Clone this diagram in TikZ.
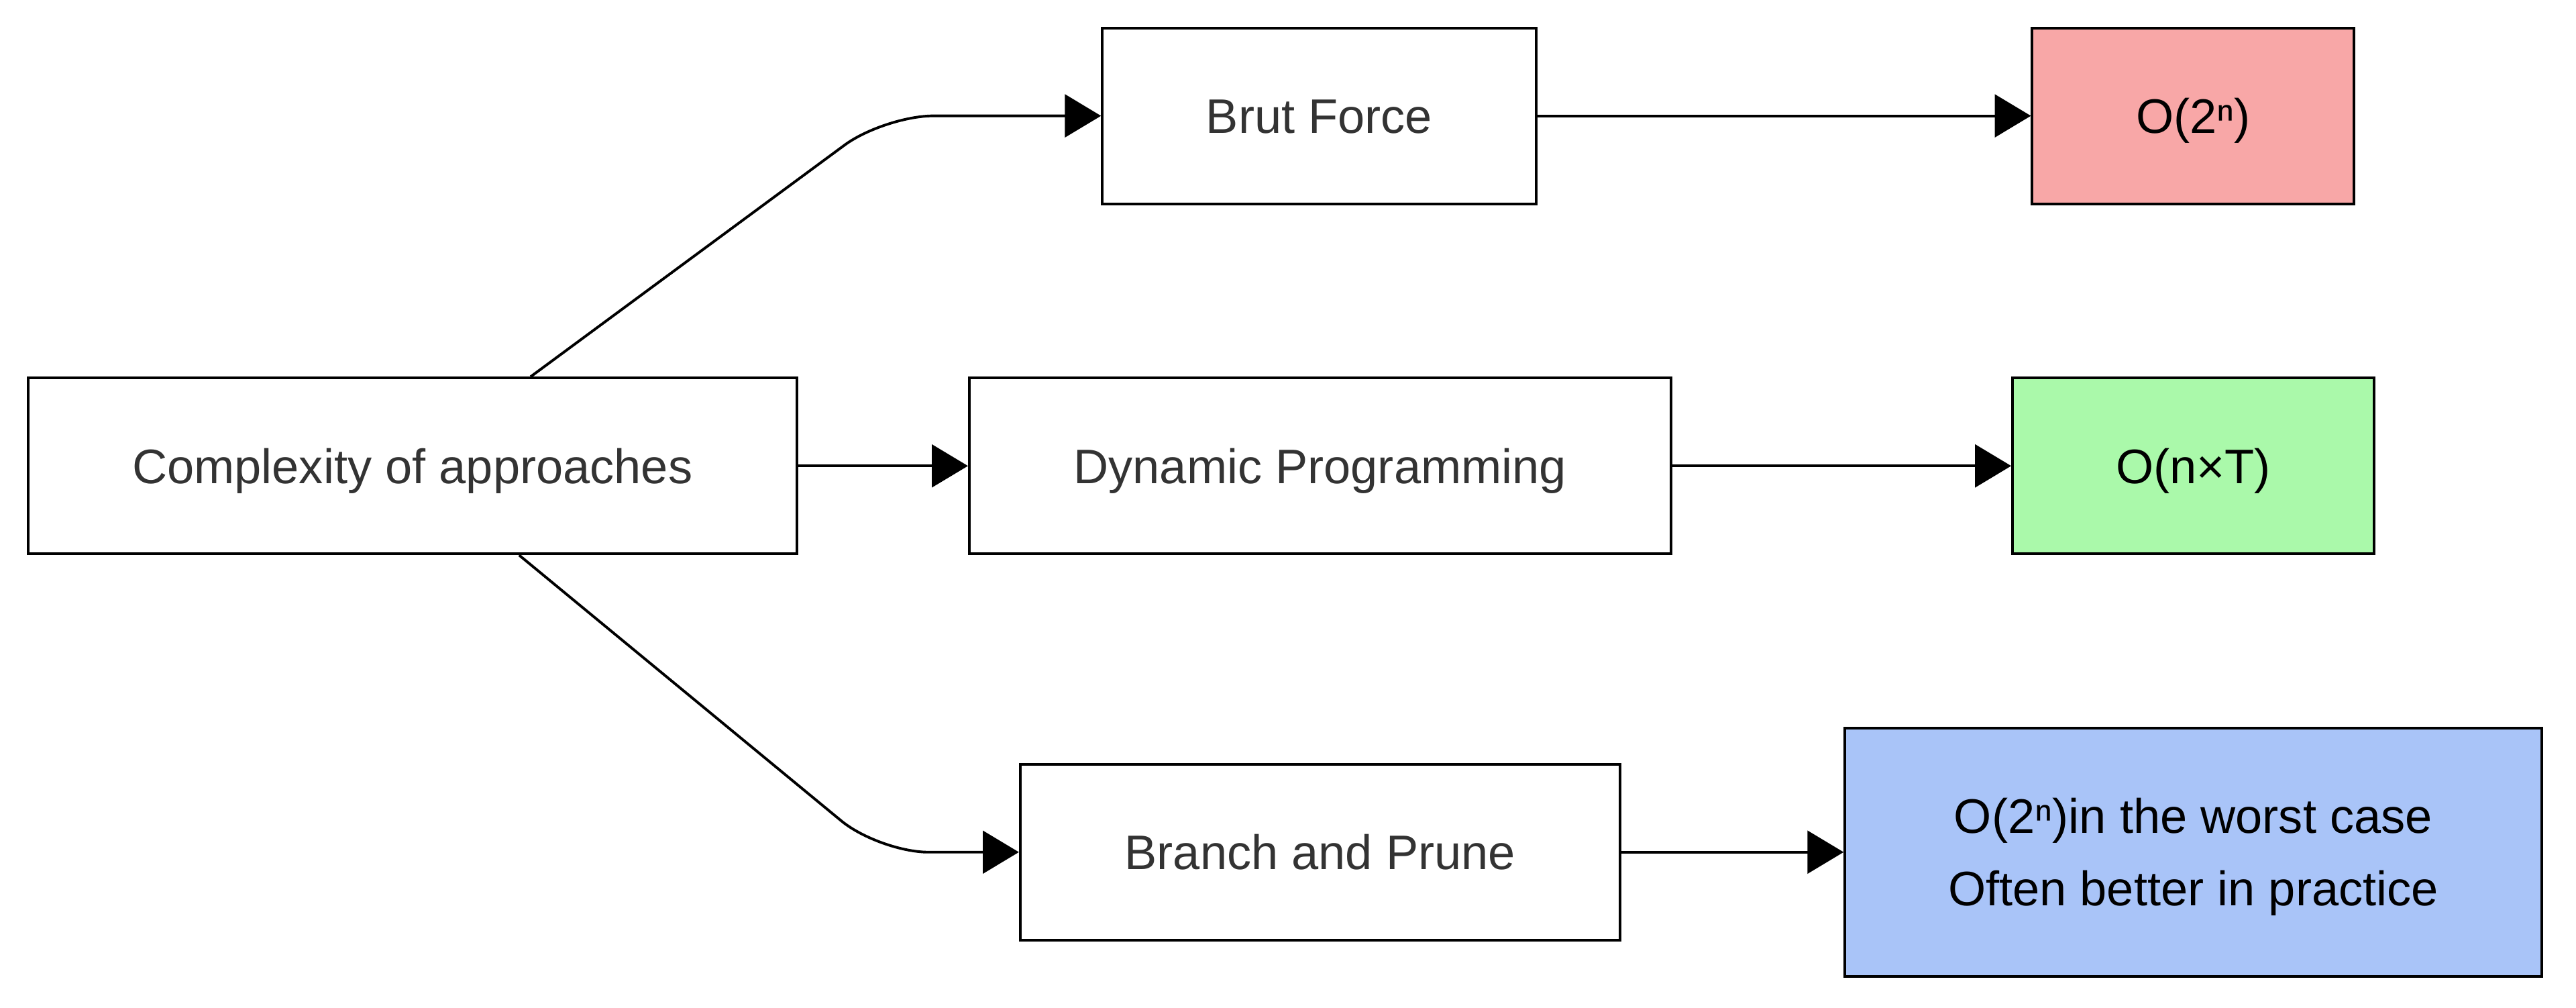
\documentclass[tikz,border=0pt]{standalone}
\usepackage{fontspec}
\setmainfont{Liberation Sans}
\usepackage{tikz}
\usetikzlibrary{arrows.meta}
\definecolor{txtgray}{HTML}{333333}
\definecolor{redfill}{HTML}{F8A7A7}
\definecolor{greenfill}{HTML}{AAF9AA}
\definecolor{bluefill}{HTML}{A9C4F8}
\begin{document}
\begin{tikzpicture}[x=0.5pt,y=-0.5pt]
\tikzset{edge/.style = {-{Triangle[length=11pt,width=13pt]}, line width=0.8pt, rounded corners=15pt}}
\tikzset{box/.style = {draw, line width=0.8pt, minimum height=53.5pt, inner sep=0pt, text=txtgray,
  font=\fontsize{14.75}{22}\selectfont, align=center, text height=10.6pt, text depth=0pt}}
\useasboundingbox (0,0) rectangle (1568,613);

\node[box, minimum width=234pt] (cx) at (251,283.5) {Complexity of approaches};
\node[box, minimum width=132pt] (bf) at (803,70.5) {Brut Force};
\node[box, minimum width=213.5pt] (dp) at (803.5,283.5) {Dynamic Programming};
\node[box, minimum width=182.5pt] (bp) at (803.5,518.5) {Branch and Prune};

\node[box, minimum width=98pt, fill=redfill, text=black] (bfo) at (1335,70.5) {O(2ⁿ)};
\node[box, minimum width=110pt, fill=greenfill, text=black] (dpo) at (1335,283.5) {O(n×T)};
\node[box, minimum width=212pt, minimum height=75.5pt, fill=bluefill, text=black, text height=32.6pt] (bpo) at (1335,518.5)
  {O(2ⁿ)in the worst case\\Often better in practice};

\draw[edge] ([xshift=36pt]cx.north) -- ([xshift=-66pt]bf.west) -- (bf.west);
\draw[edge] (cx.east) -- (dp.west);
\draw[edge] ([xshift=32.5pt]cx.south) -- ([xshift=-42.5pt]bp.west) -- (bp.west);

\draw[edge] (bf.east) -- (bfo.west);
\draw[edge] (dp.east) -- (dpo.west);
\draw[edge] (bp.east) -- (bpo.west);

\end{tikzpicture}
\end{document}
